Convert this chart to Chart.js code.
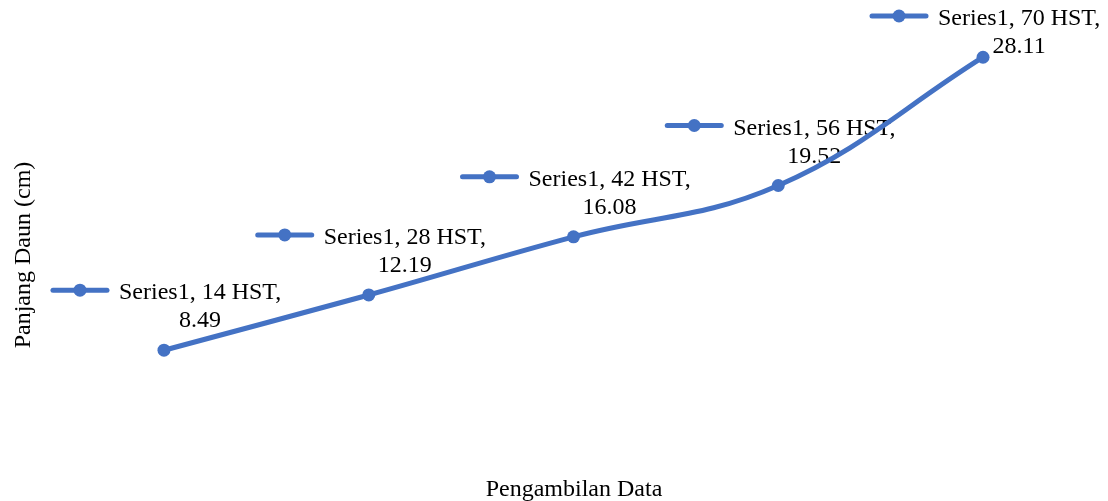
<!DOCTYPE html>
<html>
<head>
<meta charset="utf-8">
<script src="https://cdn.jsdelivr.net/npm/chart.js@4"></script>
<style>
  html, body { margin: 0; padding: 0; background: #fff; }
  #wrap { width: 1108px; height: 501px; }
</style>
</head>
<body>
<div id="wrap"><canvas id="myChart" width="1108" height="501"></canvas></div>
<script>
// data
const seriesName = 'Series1';
const categories = ['14 HST', '28 HST', '42 HST', '56 HST', '70 HST'];
const values = [8.49, 12.19, 16.08, 19.52, 28.11];
const xTitle = 'Pengambilan Data';
const yTitle = 'Panjang Daun (cm)';

const blue = '#4472C4';
const font = '24px "Liberation Serif", "Times New Roman", serif';

// data labels with legend key, like the Excel ones
const labelPlugin = {
    id: 'excelLabels',
    beforeDatasetsDraw(chart) {
        const c = chart.ctx;
        const meta = chart.getDatasetMeta(0);
        c.save();
        c.font = font;
        c.textBaseline = 'alphabetic';
        meta.data.forEach((pt, i) => {
            const px = pt.x;
            // keep label inside the chart at the top
            const base = Math.max(pt.y - 51, 25);
            // key
            c.strokeStyle = blue;
            c.lineWidth = 5;
            c.lineCap = 'round';
            c.beginPath();
            c.moveTo(px - 111, base - 9);
            c.lineTo(px - 57, base - 9);
            c.stroke();
            c.fillStyle = blue;
            c.beginPath();
            c.arc(px - 84, base - 9, 6.5, 0, Math.PI * 2);
            c.fill();
            // text
            c.fillStyle = '#000';
            const line1 = seriesName + ', ' + categories[i] + ',';
            const w = c.measureText(line1).width;
            c.textAlign = 'left';
            c.fillText(line1, px - 45, base);
            c.textAlign = 'center';
            c.fillText(String(values[i]), px - 45 + w / 2, base + 28);
        });
        c.restore();
    },
    afterDraw(chart) {
        const c = chart.ctx;
        c.save();
        c.font = font;
        c.fillStyle = '#000';
        c.textAlign = 'center';
        c.textBaseline = 'alphabetic';
        c.fillText(xTitle, 574, 496);
        c.translate(30, 255);
        c.rotate(-Math.PI / 2);
        c.fillText(yTitle, 0, 0);
        c.restore();
    }
};

const ctx = document.getElementById('myChart').getContext('2d');
const myChart = new Chart(ctx, {
    type: 'line',
    data: {
        labels: categories,
        datasets: [{
            label: seriesName,
            data: values,
            borderColor: blue,
            backgroundColor: blue,
            borderWidth: 5,
            borderCapStyle: 'round',
            tension: 0.4,
            pointRadius: 6.5,
            pointHoverRadius: 6.5,
            pointBorderWidth: 0,
            pointBackgroundColor: blue
        }]
    },
    options: {
        responsive: false,
        animation: false,
        layout: { padding: { left: 61.6, right: 22.6, top: 29, bottom: 24 } },
        plugins: {
            legend: { display: false },
            tooltip: { enabled: false }
        },
        scales: {
            x: { display: false, offset: true },
            y: { display: false, min: 0, max: 30 }
        }
    },
    plugins: [labelPlugin]
});
</script>
</body>
</html>
